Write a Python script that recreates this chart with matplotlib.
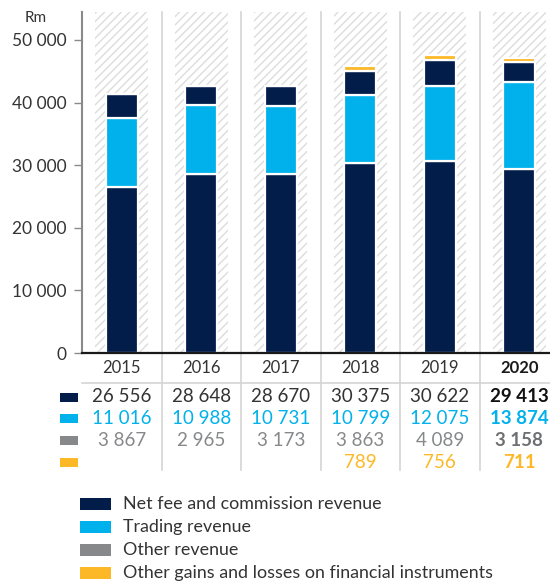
import matplotlib
matplotlib.use("Agg")
import matplotlib.pyplot as plt
from matplotlib.patches import Rectangle
from matplotlib.lines import Line2D

years = ["2015", "2016", "2017", "2018", "2019", "2020"]
net_fee = [26556, 28648, 28670, 30375, 30622, 29413]
trading = [11016, 10988, 10731, 10799, 12075, 13874]
other_rev = [3867, 2965, 3173, 3863, 4089, 3158]
other_gains = [None, None, None, 789, 756, 711]
series_names = ["Net fee and commission revenue", "Trading revenue",
                "Other revenue", "Other gains and losses on financial instruments"]
yticks = [0, 10000, 20000, 30000, 40000, 50000]
ytick_labels = ["0", "10 000", "20 000", "30 000", "40 000", "50 000"]

NAVY = "#031d4b"
CYAN = "#00b1eb"
GREY = "#87888a"
YELLOW = "#fdb827"
TEXT = "#333333"
legend_colors = [NAVY, CYAN, GREY, YELLOW]
bar_colors = [NAVY, CYAN, NAVY, YELLOW]
text_colors = [TEXT, CYAN, GREY, YELLOW]

plt.rcParams['font.family'] = ['Lato', 'DejaVu Sans']
plt.rcParams['hatch.color'] = '#dcdcdc'
plt.rcParams['hatch.linewidth'] = 1.0

W, H = 550, 585
fig = plt.figure(figsize=(W/100, H/100), dpi=100)
ax_l, ax_r, ax_top, ax_bot = 82, 550, 12, 353
ax = fig.add_axes([ax_l/W, 1-ax_bot/H, (ax_r-ax_l)/W, (ax_bot-ax_top)/H])
colw = 79.5
ax.set_xlim(-0.5, -0.5 + (ax_r-ax_l)/colw)
ax.set_ylim(0, (ax_bot-ax_top)/62.6*10000)

x = list(range(len(years)))
ytop = ax.get_ylim()[1]
ax.bar(x, [ytop]*len(x), width=0.67, facecolor='white', hatch='////',
       edgecolor='#dcdcdc', linewidth=0, zorder=1)

series = [net_fee, trading, other_rev, other_gains]
bottoms = [0]*len(x)
for s, c in zip(series, bar_colors):
    vals = [v if v is not None else 0 for v in s]
    ax.bar(x, vals, bottom=bottoms, width=0.40, color=c, edgecolor='white',
           linewidth=1.6, zorder=3)
    bottoms = [b+v for b, v in zip(bottoms, vals)]

for sp in ['top', 'right']:
    ax.spines[sp].set_visible(False)
ax.spines['left'].set_color('#8a8a8a')
ax.spines['left'].set_linewidth(1.5)
ax.spines['bottom'].set_color('#1a1a1a')
ax.spines['bottom'].set_linewidth(1.6)
ax.spines['bottom'].set_zorder(5)
ax.set_yticks(yticks)
ax.set_yticklabels(ytick_labels)
ax.tick_params(axis='y', length=6, width=1, color='#8a8a8a', labelsize=12.5,
               labelcolor=TEXT, pad=5)
ax.set_xticks([])
ax.patch.set_alpha(0)

fig.text(36/W, 1-18/H, "Rm", fontsize=11, color=TEXT, ha='center', va='center')

# separators
def fx(xd):
    return (ax_l + (xd + 0.5)*colw)/W
for i in range(len(years)-1):
    xx = fx(i + 0.5)
    fig.add_artist(Line2D([xx, xx], [1-ax_top/H, 1-470/H], color='#d4d4d4', lw=1.2, zorder=0))
fig.add_artist(Line2D([ax_l/W, 1], [1-383/H, 1-383/H], color='#d4d4d4', lw=1.2))

# year row
for i, yr in enumerate(years):
    fig.text(fx(i), 1-368/H, yr, ha='center', va='center', fontsize=12,
             color='#1a1a1a' if i == 5 else TEXT,
             fontweight='bold' if i == 5 else 'normal')

row_y = [397, 418.5, 440, 462]
def fmt(v):
    return f"{v:,}".replace(",", " ")
for r, (s, tc) in enumerate(zip(series, text_colors)):
    yy = 1 - row_y[r]/H
    fig.add_artist(Rectangle((60/W, yy - 4.5/H), 18/W, 9/H, color=legend_colors[r], lw=0))
    for i, v in enumerate(s):
        if v is None:
            continue
        bold = i == 5
        col = tc
        if bold and r == 0:
            col = '#111111'
        if bold and r == 2:
            col = '#6e6f71'
        fig.text(fx(i), yy, fmt(v), ha='center', va='center', fontsize=13.5,
                 color=col, fontweight='bold' if bold else 'normal')

# legend
leg_y = [504, 527, 550, 573]
for name, c, ly in zip(series_names, legend_colors, leg_y):
    yy = 1 - ly/H
    fig.add_artist(Rectangle((80/W, yy - 6/H), 31/W, 12/H, color=c, lw=0))
    fig.text(123/W, yy, name, ha='left', va='center', fontsize=12.9, color=TEXT)

fig.savefig("out.png", dpi=100)
